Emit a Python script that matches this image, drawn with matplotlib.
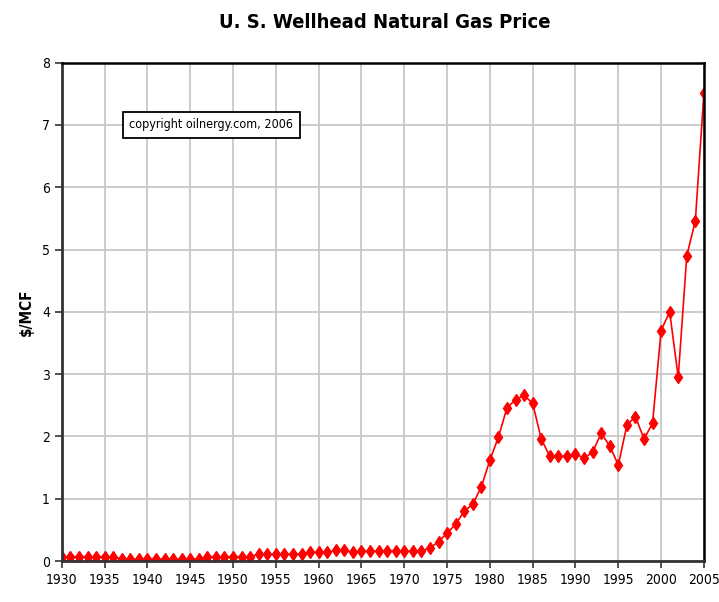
import matplotlib
matplotlib.use("Agg")
import matplotlib.pyplot as plt

# US wellhead natural gas price, $/MCF
years = list(range(1930, 2006))
prices = [
    0.07, 0.07, 0.07, 0.07, 0.07, 0.07, 0.07,                    # 1930-1936
    0.03, 0.03, 0.03, 0.03, 0.03, 0.03, 0.03, 0.03, 0.03, 0.03,  # 1937-1946
    0.07, 0.07, 0.07, 0.07, 0.07, 0.07,                          # 1947-1952
    0.11, 0.11, 0.11, 0.11, 0.11, 0.11,                          # 1953-1958
    0.14, 0.14, 0.14, 0.17, 0.17, 0.14,                          # 1959-1964
    0.16, 0.16, 0.16, 0.16, 0.16, 0.16, 0.16, 0.16,              # 1965-1972
    0.21, 0.31, 0.45, 0.59, 0.80, 0.91, 1.19,                    # 1973-1979
    1.62, 1.99, 2.46, 2.59, 2.66, 2.53, 1.96, 1.68, 1.68, 1.68,  # 1980-1989
    1.72, 1.65, 1.75, 2.05, 1.85, 1.54, 2.18, 2.32, 1.96, 2.21,  # 1990-1999
    3.70, 4.00, 2.95, 4.90, 5.46, 7.51,                          # 2000-2005
]
xticks = list(range(1930, 2006, 5))
yticks = list(range(0, 9))

fam = 'DejaVu Sans'
cond = 'condensed'

fig = plt.figure(figsize=(7.19, 6.02), dpi=100)
ax = fig.add_axes([0.086, 0.068, 0.893, 0.828])

ax.plot(years, prices, color='red', lw=1.2, marker='d', markersize=6,
        markerfacecolor='red', markeredgecolor='red')

ax.set_xlim(1930, 2005)
ax.set_ylim(0, 8)
ax.set_xticks(xticks)
ax.set_yticks(yticks)
ax.grid(True, color='#c8c8c8', lw=1.3)
ax.set_axisbelow(True)

for s in ['left', 'bottom']:
    ax.spines[s].set_linewidth(2)
    ax.spines[s].set_color('#333333')
for s in ['top', 'right']:
    ax.spines[s].set_linewidth(1.8)
    ax.spines[s].set_color('black')

ax.tick_params(direction='out', length=5, width=1.2, colors='#333333',
               labelcolor='black', labelsize=10)
for lab in ax.get_xticklabels() + ax.get_yticklabels():
    lab.set_family(fam)
    lab.set_stretch(cond)

ax.set_ylabel('$/MCF', fontsize=11, fontweight='bold', family=fam,
              stretch=cond, labelpad=6)
fig.suptitle('U. S. Wellhead Natural Gas Price', fontsize=14.5, fontweight='bold',
             family=fam, stretch=cond, x=0.535, y=0.978)

ax.text(1937.9, 7.0, 'copyright oilnergy.com, 2006', fontsize=9, family=fam,
        stretch=cond, va='center', ha='left',
        bbox=dict(boxstyle='square,pad=0.55', facecolor='white', edgecolor='black', lw=1.3))

fig.savefig('out.png', dpi=100)
